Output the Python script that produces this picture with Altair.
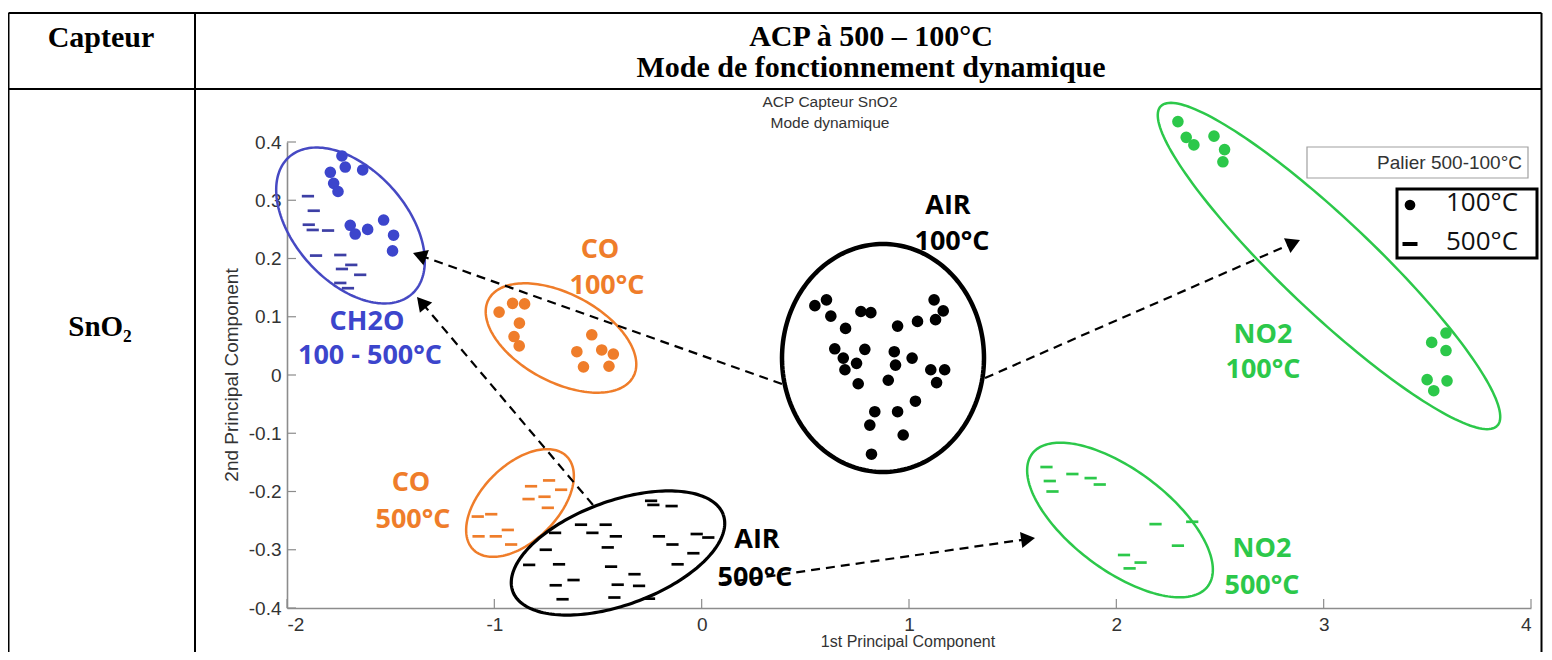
import math
import altair as alt
import pandas as pd

# ---------------- data ----------------
CH2O_100_X = [-1.735, -1.719, -1.635, -1.791, -1.775, -1.754, -1.695, -1.671, -1.611, -1.534, -1.486, -1.491]
CH2O_100_Y = [0.376, 0.357, 0.352, 0.348, 0.329, 0.315, 0.257, 0.242, 0.250, 0.266, 0.240, 0.213]
CH2O_500_X = [-1.899, -1.871, -1.895, -1.876, -1.802, -1.860, -1.743, -1.690, -1.735, -1.647, -1.743, -1.706]
CH2O_500_Y = [0.307, 0.282, 0.258, 0.249, 0.248, 0.205, 0.206, 0.189, 0.182, 0.172, 0.158, 0.149]
CO_100_X = [-0.977, -0.912, -0.854, -0.879, -0.905, -0.880, -0.530, -0.602, -0.482, -0.426, -0.570, -0.447]
CO_100_Y = [0.108, 0.123, 0.122, 0.089, 0.066, 0.050, 0.069, 0.040, 0.043, 0.036, 0.014, 0.015]
CO_500_X = [-0.736, -0.823, -0.678, -0.758, -0.835, -0.742, -1.080, -1.015, -0.935, -1.076, -0.993, -0.919]
CO_500_Y = [-0.181, -0.191, -0.197, -0.209, -0.213, -0.228, -0.243, -0.239, -0.266, -0.277, -0.277, -0.291]
AIR_100_X = [0.546, 0.602, 0.623, 0.694, 0.768, 0.816, 0.945, 1.041, 1.121, 1.165, 1.128, 0.642, 0.683, 0.691, 0.747,
             0.787, 0.755, 0.929, 0.935, 0.900, 1.015, 1.105, 1.172, 1.133, 1.031, 0.835, 0.945, 0.811, 0.972, 0.819]
AIR_100_Y = [0.119, 0.129, 0.101, 0.080, 0.109, 0.107, 0.084, 0.092, 0.129, 0.110, 0.095, 0.045, 0.029, 0.009, 0.020,
             0.044, -0.015, 0.040, 0.017, -0.009, 0.029, 0.009, 0.009, -0.013, -0.045, -0.063, -0.063, -0.086, -0.103, -0.136]
AIR_500_X = [-0.244, -0.233, -0.145, -0.582, -0.463, -0.707, -0.527, -0.414, -0.206, -0.024, 0.032, -0.752, -0.453, -0.141,
             -0.040, -0.832, -0.688, -0.437, -0.116, -0.324, -0.618, -0.704, -0.405, -0.302, -0.671, -0.421, -0.254]
AIR_500_Y = [-0.216, -0.223, -0.225, -0.257, -0.257, -0.271, -0.271, -0.277, -0.277, -0.273, -0.279, -0.300, -0.296, -0.291,
             -0.306, -0.326, -0.325, -0.329, -0.325, -0.342, -0.352, -0.361, -0.360, -0.362, -0.385, -0.382, -0.384]
NO2_100_X = [2.297, 2.337, 2.374, 2.471, 2.522, 2.514, 3.521, 3.590, 3.590, 3.499, 3.595, 3.531]
NO2_100_Y = [0.435, 0.408, 0.395, 0.410, 0.387, 0.366, 0.056, 0.072, 0.042, -0.008, -0.010, -0.027]
NO2_500_X = [1.663, 1.679, 1.692, 1.788, 1.876, 1.920, 2.189, 2.366, 2.297, 2.037, 2.117, 2.064]
NO2_500_Y = [-0.158, -0.182, -0.200, -0.170, -0.177, -0.188, -0.256, -0.252, -0.293, -0.309, -0.322, -0.332]

X_TICKS = [-2, -1, 0, 1, 2, 3, 4]
Y_TICKS = [-0.4, -0.3, -0.2, -0.1, 0, 0.1, 0.2, 0.3, 0.4]

BLUE, BLUE_D = "#3c45cc", "#3d3fa5"
ORANGE = "#ef7d2a"
GREEN = "#2cc84a"
BLACK = "#000000"

# ---------------- geometry ----------------
W, H = 1244, 466          # plot area
OX, OY = 287, 142         # page position of plot origin
XMIN, XMAX, YMIN, YMAX = -2, 4, -0.4, 0.4
SX, SY = W / (XMAX - XMIN), H / (YMAX - YMIN)


def dx(px):
    return XMIN + (px - OX) / SX


def dy(py):
    return YMAX - (py - OY) / SY


xs = alt.Scale(domain=[XMIN, XMAX], nice=False, zero=False)
ys = alt.Scale(domain=[YMIN, YMAX], nice=False, zero=False)
AXFONT = "Liberation Sans Narrow, Liberation Sans, Arial"
x_axis = alt.Axis(values=X_TICKS, title=None, grid=False, ticks=False, tickSize=0,
                  domainColor="#8c8c8c", domainWidth=1.6, labelFont=AXFONT, labelFontSize=19,
                  labelColor="#333333", labelPadding=7,
                  labelExpr="datum.value < 0 ? '-' + abs(datum.value) : '' + datum.value")
y_axis = alt.Axis(values=Y_TICKS, title=None, grid=False, ticks=False, tickSize=0,
                  domainColor="#8c8c8c", domainWidth=1.6, labelFont=AXFONT, labelFontSize=19,
                  labelColor="#333333", labelPadding=6,
                  labelExpr="datum.value == 0 ? '0' : (datum.value < 0 ? '-' : '') + format(abs(datum.value), '.1f')")


def X(f="x"):
    return alt.X(f"{f}:Q", scale=xs, axis=x_axis)


def Y(f="y"):
    return alt.Y(f"{f}:Q", scale=ys, axis=y_axis)


one = pd.DataFrame({"k": [0]})

# ---------------- point data ----------------
dots = pd.concat([
    pd.DataFrame({"x": CH2O_100_X, "y": CH2O_100_Y, "c": BLUE}),
    pd.DataFrame({"x": CO_100_X, "y": CO_100_Y, "c": ORANGE}),
    pd.DataFrame({"x": AIR_100_X, "y": AIR_100_Y, "c": BLACK}),
    pd.DataFrame({"x": NO2_100_X, "y": NO2_100_Y, "c": GREEN}),
])
dashes = pd.concat([
    pd.DataFrame({"x": CH2O_500_X, "y": CH2O_500_Y, "c": BLUE_D}),
    pd.DataFrame({"x": CO_500_X, "y": CO_500_Y, "c": ORANGE}),
    pd.DataFrame({"x": AIR_500_X, "y": AIR_500_Y, "c": BLACK}),
    pd.DataFrame({"x": NO2_500_X, "y": NO2_500_Y, "c": GREEN}),
])

# ---------------- annotation geometry (page px) ----------------
ELLIPSES = [  # cx, cy, a, b, angle, colour, width
    (350.5, 225.5, 92, 56, 48, "#4649c3", 2.5),
    (561, 338, 82, 44, 28, ORANGE, 2.5),
    (883, 358, 101, 114, 0, BLACK, 4.5),
    (1329, 266, 232, 46, 43.5, GREEN, 2.5),
    (520, 503, 66, 38, -45, ORANGE, 2.5),
    (618, 553, 112, 52, -20, BLACK, 3.2),
    (1120, 520, 110, 50, 37, GREEN, 2.5),
]
rows = []
for k, (cx, cy, a, b, th, col, sw) in enumerate(ELLIPSES):
    t0 = math.radians(th)
    for i in range(181):
        t = 2 * math.pi * i / 180
        ex, ey = a * math.cos(t), b * math.sin(t)
        px = cx + ex * math.cos(t0) - ey * math.sin(t0)
        py = cy + ex * math.sin(t0) + ey * math.cos(t0)
        rows.append({"id": k, "i": i, "x": dx(px), "y": dy(py), "c": col, "sw": sw})
ell = pd.DataFrame(rows)

ARROWS = [((782, 384), (413, 253)), ((593, 505), (417, 297)),
          ((985, 378), (1300, 240)), ((722, 583), (1035, 538))]
HEAD_SIZE = 260
head_h = math.sqrt(3) / 2 * math.sqrt(HEAD_SIZE) / 2
arow, hrow = [], []
for k, ((x0, y0), (x1, y1)) in enumerate(ARROWS):
    vx, vy = x1 - x0, y1 - y0
    L = math.hypot(vx, vy)
    ux, uy = vx / L, vy / L
    cxh, cyh = x1 - ux * head_h, y1 - uy * head_h
    arow.append({"id": k, "i": 0, "x": dx(x0), "y": dy(y0)})
    arow.append({"id": k, "i": 1, "x": dx(cxh), "y": dy(cyh)})
    ang = math.degrees(math.atan2(ux, -uy)) % 360
    hrow.append({"x": dx(cxh), "y": dy(cyh), "ang": ang})
arr = pd.DataFrame(arow)
heads = pd.DataFrame(hrow)

LABELS = [
    ("CH2O", 367, 322, BLUE), ("100 - 500°C", 370, 356, BLUE),
    ("CO", 600, 250, ORANGE), ("100°C", 607, 286, ORANGE),
    ("AIR", 948, 206, BLACK), ("100°C", 952, 242, BLACK),
    ("NO2", 1263, 335, GREEN), ("100°C", 1263, 370, GREEN),
    ("CO", 411, 483, ORANGE), ("500°C", 413, 520, ORANGE),
    ("AIR", 757, 540, BLACK), ("500°C", 755, 578, BLACK),
    ("NO2", 1262, 549, GREEN), ("500°C", 1262, 586, GREEN),
]
lab = pd.DataFrame([{"t": t, "x": dx(x), "y": dy(y), "c": c} for t, x, y, c in LABELS])

DASH_PATH = "M-1,-0.22L1,-0.22L1,0.22L-1,0.22Z"

# ---------------- layers ----------------
layers = []

# inward ticks
layers.append(alt.Chart(pd.DataFrame({"x": X_TICKS})).mark_rule(color="#8c8c8c", strokeWidth=1.2).encode(
    x=X(), y=alt.value(H), y2=alt.value(H - 9)))
layers.append(alt.Chart(pd.DataFrame({"y": Y_TICKS})).mark_rule(color="#8c8c8c", strokeWidth=1.2).encode(
    y=Y(), x=alt.value(0), x2=alt.value(9)))

layers.append(alt.Chart(ell).mark_line().encode(
    x=X(), y=Y(), detail="id:N", order="i:Q",
    color=alt.Color("c:N", scale=None), strokeWidth=alt.StrokeWidth("sw:Q", scale=None)))

layers.append(alt.Chart(arr).mark_line(color="black", strokeWidth=2.2, strokeDash=[9, 6]).encode(
    x=X(), y=Y(), detail="id:N", order="i:Q"))
layers.append(alt.Chart(heads).mark_point(shape="triangle-up", filled=True, color="black", opacity=1,
                                          size=HEAD_SIZE, strokeWidth=0).encode(
    x=X(), y=Y(), angle=alt.Angle("ang:Q", scale=None)))

layers.append(alt.Chart(dots).mark_point(shape="circle", filled=True, opacity=1, size=135, strokeWidth=0).encode(
    x=X(), y=Y(), color=alt.Color("c:N", scale=None)))
layers.append(alt.Chart(dashes).mark_point(shape=DASH_PATH, filled=True, opacity=1, size=150, strokeWidth=0).encode(
    x=X(), y=Y(), color=alt.Color("c:N", scale=None)))

layers.append(alt.Chart(lab).mark_text(font="Open Sans", fontWeight="bold", fontSize=27,
                                       align="center", baseline="middle").encode(
    x=X(), y=Y(), text="t:N", color=alt.Color("c:N", scale=None)))


def ptext(txt, x, y, **kw):
    return alt.Chart(one).mark_text(baseline="middle", **kw).encode(
        x=alt.value(x - OX), y=alt.value(y - OY), text=alt.value(txt))


def prule(x1, y1, x2, y2, **kw):
    return alt.Chart(one).mark_rule(**kw).encode(
        x=alt.value(x1 - OX), y=alt.value(y1 - OY), x2=alt.value(x2 - OX), y2=alt.value(y2 - OY))


def prect(x1, y1, x2, y2, **kw):
    return alt.Chart(one).mark_rect(**kw).encode(
        x=alt.value(x1 - OX), y=alt.value(y1 - OY), x2=alt.value(x2 - OX), y2=alt.value(y2 - OY))


def ppoint(x, y, **kw):
    return alt.Chart(one).mark_point(**kw).encode(x=alt.value(x - OX), y=alt.value(y - OY))


# chart titles
layers.append(ptext("ACP Capteur SnO2", 830, 102, font="Liberation Sans", fontSize=15.5, color="#333333"))
layers.append(ptext("Mode dynamique", 830, 123, font="Liberation Sans", fontSize=15.5, color="#333333"))
layers.append(ptext("1st Principal Component", 908, 642, font=AXFONT, fontSize=16, color="#333333"))
layers.append(ptext("2nd Principal Component", 232, 375, font=AXFONT, fontSize=19, color="#333333", angle=270))

# legend
layers.append(prect(1307, 147, 1528, 178, fill="white", stroke="#a0a0a0", strokeWidth=1.2))
layers.append(ptext("Palier 500-100°C", 1522, 163, font="Liberation Sans", fontSize=19, color="#333333", align="right"))
layers.append(prect(1397, 189, 1537, 258, fill="white", stroke="black", strokeWidth=3))
layers.append(ppoint(1410, 205, shape="circle", filled=True, color="black", opacity=1, size=115, strokeWidth=0))
layers.append(ppoint(1410, 244, shape="M-1,-0.27L1,-0.27L1,0.27L-1,0.27Z", filled=True, color="black",
                     opacity=1, size=225, strokeWidth=0))
layers.append(ptext("100°C", 1446, 203, font="Open Sans", fontSize=26, color="#111111", align="left"))
layers.append(ptext("500°C", 1446, 242, font="Open Sans", fontSize=26, color="#111111", align="left"))

# table
TB = dict(color="black", strokeWidth=2)
BOTTOM = OY + H + 44
layers.append(prule(8.5, 13, 1541.5, 13, **TB))
layers.append(prule(8.5, 89, 1541.5, 89, **TB))
layers.append(prule(8.5, 13, 8.5, BOTTOM, **TB))
layers.append(prule(195, 13, 195, BOTTOM, **TB))
layers.append(prule(1541.5, 13, 1541.5, BOTTOM, **TB))
SERIF = "Liberation Serif, Times New Roman, serif"
layers.append(ptext("Capteur", 101, 38, font=SERIF, fontWeight="bold", fontSize=30, color="black"))
layers.append(ptext("ACP à 500 – 100°C", 871, 37, font=SERIF, fontWeight="bold", fontSize=30, color="black"))
layers.append(ptext("Mode de fonctionnement dynamique", 871, 68, font=SERIF, fontWeight="bold", fontSize=30,
                    color="black"))
layers.append(ptext("SnO₂", 100, 327, font=SERIF, fontWeight="bold", fontSize=29, color="black"))

chart = alt.layer(*layers).properties(
    width=W, height=H, autosize="none",
    padding={"left": OX - 8, "top": OY - 8, "right": 12, "bottom": 44},
    background="white",
).configure_view(stroke=None)

chart.save("out.html", embed_options={"renderer": "svg", "actions": False})
